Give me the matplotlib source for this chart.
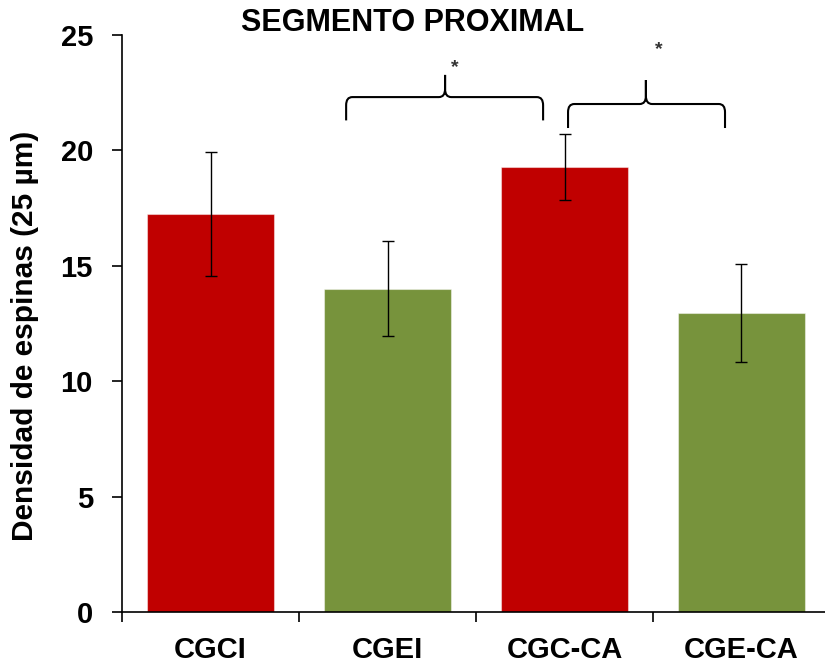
import matplotlib.pyplot as plt
from matplotlib.path import Path
from matplotlib.patches import PathPatch

plt.rcParams['font.family'] = ['Liberation Sans', 'DejaVu Sans']
plt.rcParams['font.weight'] = 'bold'

grupos = ["CGCI", "CGEI", "CGC-CA", "CGE-CA"]
densidad = [17.25, 14.0, 19.28, 12.97]
error = [2.7, 2.06, 1.43, 2.12]
colores = ["#C00000", "#77933C", "#C00000", "#77933C"]

fig = plt.figure(figsize=(8.25, 6.68), dpi=100)
ax = fig.add_axes([0.148, 0.0838, 0.858, 0.8638])

x = range(len(grupos))
ax.bar(x, densidad, width=0.72, color=colores, edgecolor=(1, 1, 1, 0.45), linewidth=0.8,
       yerr=error, capsize=4.5, error_kw=dict(elinewidth=1, ecolor="black", capthick=1))

ax.set_xlim(-0.5, 3.5)
ax.set_ylim(0, 25)
ax.set_yticks([0, 5, 10, 15, 20, 25])
ax.tick_params(axis="y", labelsize=21, length=7, width=1.2, pad=14)

# separadores entre grupos como ticks mayores, etiquetas como menores
ax.set_xticks([-0.5, 0.5, 1.5, 2.5, 3.5])
ax.set_xticklabels([])
ax.set_xticks(list(x), minor=True)
ax.set_xticklabels(grupos, minor=True)
ax.tick_params(axis="x", which="major", length=7, width=1.2)
ax.tick_params(axis="x", which="minor", length=0, labelsize=21, pad=17)

for s in ["top", "right"]:
    ax.spines[s].set_visible(False)
for s in ["left", "bottom"]:
    ax.spines[s].set_linewidth(1.2)

fig.text(25 / 825, 0.497, "Densidad de espinas (25 µm)", rotation=90, ha="center", va="center",
         fontsize=21.5, fontweight="bold")
fig.text(0.5, 0.966, "SEGMENTO PROXIMAL", ha="center", va="center", fontsize=22, fontweight="bold")


def llave(x0, x1, xm, ybase, yend, ypico, rx=0.035, ry=0.35):
    verts = [(x0, yend), (x0, ybase - ry),
             (x0, ybase), (x0 + rx, ybase),
             (xm - rx, ybase),
             (xm, ybase), (xm, ybase + ry),
             (xm, ypico), (xm, ybase + ry),
             (xm, ybase), (xm + rx, ybase),
             (x1 - rx, ybase),
             (x1, ybase), (x1, ybase - ry),
             (x1, yend)]
    codes = [Path.MOVETO, Path.LINETO,
             Path.CURVE3, Path.CURVE3,
             Path.LINETO,
             Path.CURVE3, Path.CURVE3,
             Path.LINETO, Path.LINETO,
             Path.CURVE3, Path.CURVE3,
             Path.LINETO,
             Path.CURVE3, Path.CURVE3,
             Path.LINETO]
    ax.add_patch(PathPatch(Path(verts, codes), fill=False, lw=1.5, color="black",
                           clip_on=False))


llave(0.766, 1.879, 1.325, 22.31, 21.3, 23.27)
ax.text(1.38, 23.6, "*", ha="center", va="center", fontsize=14, color="#333333")
llave(2.02, 2.907, 2.46, 22.01, 20.97, 23.05)
ax.text(2.53, 24.35, "*", ha="center", va="center", fontsize=14, color="#333333")

fig.savefig("out.png", dpi=100)
